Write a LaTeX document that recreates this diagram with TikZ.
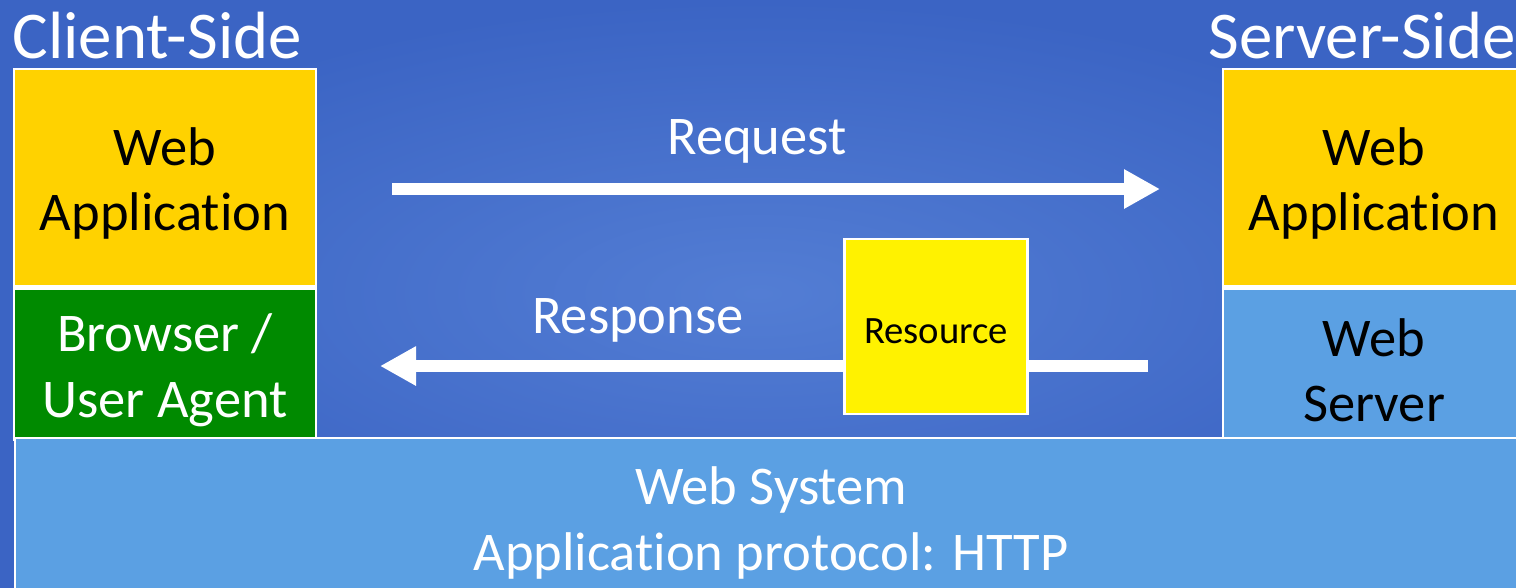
\documentclass[tikz,border=0pt]{standalone}
\usepackage{fontspec}
\setmainfont[Ligatures=NoCommon]{Carlito}
\usepackage{tikz}
\usetikzlibrary{arrows.meta, positioning}

\definecolor{slideblue}{HTML}{4472D0}
\definecolor{slidedark}{HTML}{3B64C4}
\definecolor{gold}{HTML}{FFD200}
\definecolor{agentgreen}{HTML}{008A00}
\definecolor{skyblue}{HTML}{5BA0E3}

\begin{document}
\begin{tikzpicture}[x=0.01cm, y=-0.01cm,
    layer/.style={draw=white, line width=0.7pt, minimum width=3.02cm, inner sep=0pt},
    layertext/.style={align=center, inner sep=0pt, yshift=-0.06cm,
      font=\fontsize{15.5}{18.6}\selectfont},
    sidelabel/.style={inner sep=0pt, text=white, font=\fontsize{19}{22}\selectfont},
    msglabel/.style={inner sep=0pt, text=white, font=\fontsize{15.5}{18.6}\selectfont},
    msgarrow/.style={white, line width=0.12cm, -{Triangle[length=0.36cm, width=0.37cm]}}]
  % slide background
  \useasboundingbox (0,0) rectangle (1516,587);
  \shade[inner color=slideblue!92!white, outer color=slidedark] (0,0) rectangle (1516,587);

  % headings
  \node[sidelabel, anchor=west] (client) at (12,36) {Client-Side};
  \node[sidelabel, anchor=east] (server) at (1516,36) {Server-Side};

  % client stack
  \node[layer, fill=gold, minimum height=2.17cm,
      label={[layertext]center:Web\\Application}] (capp) at (165,177.5) {};
  \node[layer, fill=agentgreen, minimum height=1.51cm, below=0pt of capp,
      label={[layertext, text=white]center:Browser /\\User Agent}] (agent) {};

  % server stack
  \node[layer, fill=gold, minimum height=2.17cm,
      label={[layertext]center:Web\\Application}] (sapp) at (1374,177.5) {};
  \node[layer, fill=skyblue, minimum height=1.51cm, below=0pt of sapp,
      label={[layertext]center:Web\\Server}] (wserver) {};

  % shared bottom layer
  \node[layer, fill=skyblue, minimum width=15.11cm, minimum height=1.63cm, anchor=north west,
      label={[layertext, text=white, yshift=0.03cm]center:Web System\\Application protocol: HTTP}]
      (system) at (14,437) {};

  % request / response
  \coordinate (reqstart) at (392,189);
  \coordinate (reqend)   at (1160,189);
  \coordinate (resstart) at (1148,366);
  \coordinate (resend)   at (380,366);
  \draw[msgarrow] (reqstart) -- (reqend);
  \draw[msgarrow] (resstart) -- (resend);
  \node[msglabel] (req) at (757,141) {Request};
  \node[msglabel] (res) at (638,320) {Response};

  \node[draw=white, line width=0.7pt, fill=yellow, minimum width=1.83cm, minimum height=1.75cm,
      inner sep=0pt, label={[layertext, yshift=0.01cm, font=\fontsize{11}{13}\selectfont]center:Resource}]
      (resource) at (936,326.5) {};
\end{tikzpicture}
\end{document}
